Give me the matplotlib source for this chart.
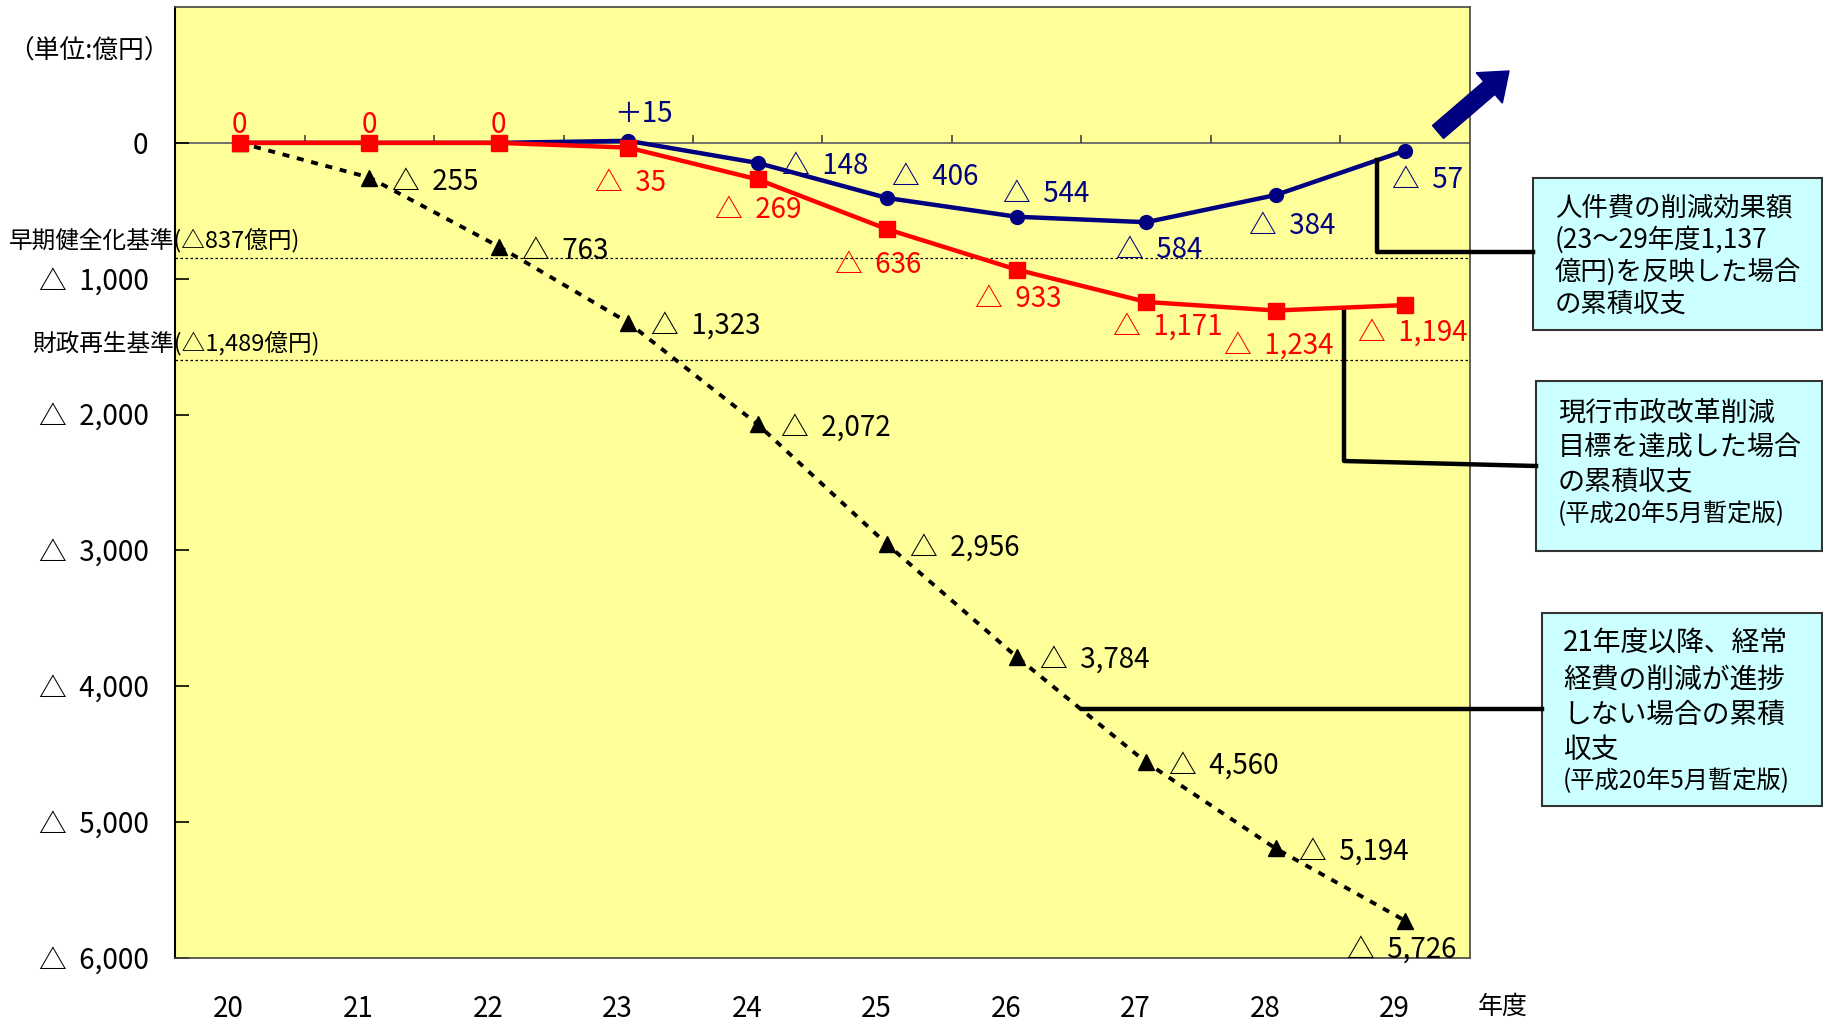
import matplotlib
matplotlib.use("Agg")
import matplotlib.pyplot as plt
from matplotlib.patches import Rectangle, FancyArrow
from matplotlib.lines import Line2D
import matplotlib.transforms as mtransforms

plt.rcParams['font.family'] = ['Noto Sans CJK JP', 'DejaVu Sans']

# ---------------- data ----------------
years = ["20", "21", "22", "23", "24", "25", "26", "27", "28", "29"]
no_cut = [0, -255, -763, -1323, -2072, -2956, -3784, -4560, -5194, -5726]
reform = [0, 0, 0, -35, -269, -636, -933, -1171, -1234, -1194]
personnel = [0, 0, 0, 15, -148, -406, -544, -584, -384, -57]
yticks = [0, -1000, -2000, -3000, -4000, -5000, -6000]
ytick_labels = ["0", "△  1,000", "△  2,000", "△  3,000", "△  4,000", "△  5,000", "△  6,000"]
ref_labels = ["早期健全化基準(△837億円)", "財政再生基準(△1,489億円)"]
ref_levels = [-846, -1596]   # where the lines appear in the picture

box_texts = [
    [("人件費の削減効果額", 19), ("(23～29年度1,137", 19), ("億円)を反映した場合", 19), ("の累積収支", 19)],
    [("現行市政改革削減", 19.5), ("目標を達成した場合", 19.5), ("の累積収支", 19.5), ("(平成20年5月暫定版)", 17.5)],
    [("21年度以降、経常", 20), ("経費の削減が進捗", 20), ("しない場合の累積", 20), ("収支", 20), ("(平成20年5月暫定版)", 17.5)],
]

def fmt(v):
    if v > 0:
        return f"＋{v}"
    if v == 0:
        return "0"
    return f"△  {abs(v):,}"

W, H = 1824, 1021
fig = plt.figure(figsize=(W / 100, H / 100), dpi=100)
fig.patch.set_facecolor("white")

def fx(px):
    return px / W

def fy(py):
    return 1 - py / H

ax = fig.add_axes([fx(175), fy(958), fx(1470) - fx(175), fy(7) - fy(958)])
ax.set_facecolor("#FFFF99")
x = list(range(len(years)))
ax.set_xlim(-0.5, len(years) - 0.5)
ax.set_ylim(-6000, 1000)

for s in ["top", "right", "bottom"]:
    ax.spines[s].set_color("#444444")
    ax.spines[s].set_linewidth(1.2)
ax.spines["left"].set_color("black")
ax.spines["left"].set_linewidth(1.5)

# zero axis line with tick marks at category boundaries
ax.axhline(0, color="#666666", lw=1.3, zorder=1)
bounds = [i + 0.5 for i in x[:-1]]
ax.vlines(bounds, 0, 55, color="#444444", lw=1.2, zorder=1)

# reference lines
for lvl in ref_levels:
    ax.axhline(lvl, color="black", lw=0.9, ls=(0, (2, 2)), zorder=1)
trans = mtransforms.blended_transform_factory(ax.transAxes, ax.transData)
ref_offsets = [(-166, 17), (-143, 17)]
for lvl, lab, off in zip(ref_levels, ref_labels, ref_offsets):
    ax.annotate(lab, xy=(0, lvl), xycoords=trans, xytext=off, textcoords="offset pixels",
                ha="left", va="center", fontsize=17, annotation_clip=False)

# series
ax.plot(x, no_cut, color="black", lw=2.8, ls=(0, (1.8, 2.0)), marker="^", markersize=12,
        markerfacecolor="black", markeredgecolor="black", zorder=3)
ax.plot(x, reform, color="#FF0000", lw=3.2, marker="s", markersize=11,
        markerfacecolor="#FF0000", markeredgecolor="#FF0000", zorder=5)
ax.plot(x, personnel, color="#000080", lw=3.2, marker="o", markersize=10,
        markerfacecolor="#000080", markeredgecolor="#000080", zorder=4)

# ticks
ax.set_yticks(yticks)
ax.set_yticklabels(ytick_labels, fontsize=20)
ax.tick_params(axis="y", direction="in", length=10, width=1.2, pad=19)
ax.set_xticks(x)
ax.set_xticklabels(years, fontsize=20)
ax.tick_params(axis="x", length=0, pad=26)
shift = mtransforms.ScaledTranslation(-0.11, 0, fig.dpi_scale_trans)
for lab in ax.get_xticklabels():
    lab.set_transform(lab.get_transform() + shift)

# data labels
LFS = 20
black_off = [None, (23, -4), (23, -4), (23, -4), (23, -4), (23, -4), (23, -4), (23, -4), (23, -4), (-58, -30)]
for xi, v, off in zip(x, no_cut, black_off):
    if off is None:
        continue
    ax.annotate(fmt(v), xy=(xi, v), xytext=off, textcoords="offset pixels",
                ha="left", va="center", fontsize=LFS, color="black", zorder=6, annotation_clip=False)

red_off = [(0, 18), (0, 18), (0, 18), (-33, -35), (-43, -31), (-52, -36), (-42, -29), (-33, -26), (-52, -36), (-47, -29)]
for xi, v, off in zip(x, reform, red_off):
    ha = "center" if v == 0 else "left"
    ax.annotate(fmt(v), xy=(xi, v), xytext=off, textcoords="offset pixels",
                ha=ha, va="center", fontsize=LFS, color="#FF0000", zorder=6)

blue_off = [None, None, None, (15, 27), (24, -3), (5, 21), (-14, 23), (-30, -28), (-27, -31), (-13, -29)]
for xi, v, off in zip(x, personnel, blue_off):
    if off is None:
        continue
    ha = "center" if v > 0 else "left"
    ax.annotate(fmt(v), xy=(xi, v), xytext=off, textcoords="offset pixels",
                ha=ha, va="center", fontsize=LFS, color="#000080", zorder=6)

# unit + x-axis title
fig.text(fx(8), fy(52), "（単位:億円）", fontsize=18.5, ha="left", va="center")
fig.text(fx(1503), fy(1007), "年度", fontsize=18, ha="center", va="center")

# boxes
boxes = [(1533, 178, 1822, 330), (1536, 381, 1822, 551), (1542, 613, 1822, 806)]
text_x = [1555, 1558, 1563]
line_ys = [[208, 240, 272, 304], [413, 448, 483, 514], [643, 680, 715, 750, 781]]
for (l, t, r, b), tx, ys, lines in zip(boxes, text_x, line_ys, box_texts):
    fig.add_artist(Rectangle((fx(l), fy(b)), fx(r) - fx(l), fy(t) - fy(b),
                             transform=fig.transFigure, facecolor="#CCFFFF",
                             edgecolor="#333333", lw=1.5))
    for yy, (txt, fs) in zip(ys, lines):
        fig.text(fx(tx), fy(yy), txt, fontsize=fs, ha="left", va="center")

# connector lines
connectors = [
    [(1377, 160), (1377, 252), (1533, 252)],
    [(1344, 312), (1344, 461), (1536, 466)],
    [(1082, 709), (1542, 709)],
]
for pts in connectors:
    fig.add_artist(Line2D([fx(p[0]) for p in pts], [fy(p[1]) for p in pts],
                          transform=fig.transFigure, color="black", lw=3.2))

# navy arrow
fig.add_artist(FancyArrow(14.38, (H - 132) / 100, 0.71, 0.61, width=0.17, head_width=0.40,
                          head_length=0.26, length_includes_head=True,
                          transform=fig.dpi_scale_trans, color="#000080"))

fig.savefig("out.png", dpi=100)
